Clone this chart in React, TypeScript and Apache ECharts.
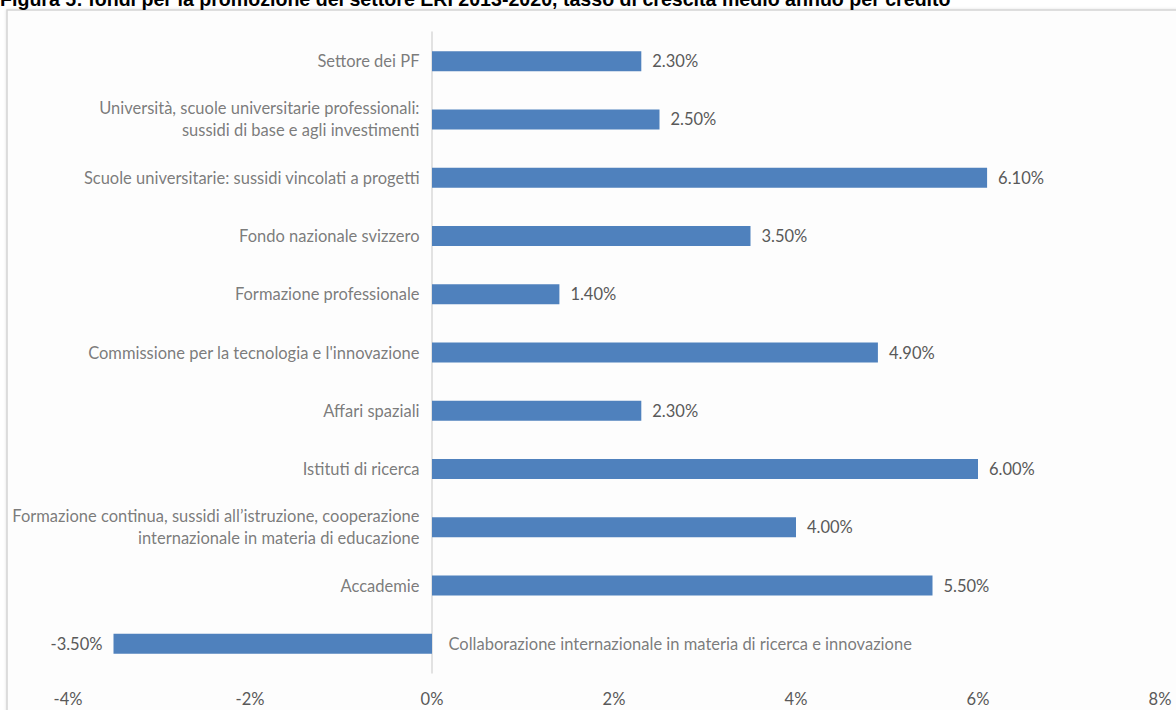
import React, { useEffect, useRef } from "react";
import * as echarts from "echarts";

const titleText =
  "Figura 5: fondi per la promozione del settore ERI 2013-2020, tasso di crescita medio annuo per credito";

const categories = [
  "Settore dei PF",
  "Università, scuole universitarie professionali:\nsussidi di base e agli investimenti",
  "Scuole universitarie: sussidi vincolati a progetti",
  "Fondo nazionale svizzero",
  "Formazione professionale",
  "Commissione per la tecnologia e l'innovazione",
  "Affari spaziali",
  "Istituti di ricerca",
  "Formazione continua, sussidi all’istruzione, cooperazione\ninternazionale in materia di educazione",
  "Accademie",
  "Collaborazione internazionale in materia di ricerca e innovazione",
];

const growthRates = [2.3, 2.5, 6.1, 3.5, 1.4, 4.9, 2.3, 6.0, 4.0, 5.5, -3.5];

const xTicks = { min: -4, max: 8, interval: 2 };

const FONT = "Lato, 'Open Sans', sans-serif";
const TEXT = "#595959";
const BAR = "#4f81bd";
const FS = 16.5;

export default function App() {
  const ref = useRef<HTMLDivElement>(null);

  useEffect(() => {
    if (!ref.current) return;
    const chart = echarts.init(ref.current, undefined, { renderer: "svg" });

    const catLabelData = categories.map((c, i) => ({
      value: [0, i],
      label: {
        position: growthRates[i] >= 0 ? "left" : "right",
        distance: growthRates[i] >= 0 ? 12 : 16,
        align: growthRates[i] >= 0 ? "right" : "left",
      },
    }));

    const barData = growthRates.map((v) =>
      v < 0 ? { value: v, label: { position: "left" } } : v
    );

    chart.setOption({
      animation: false,
      backgroundColor: "#ffffff",
      graphic: [
        {
          type: "rect",
          z: -10,
          shape: { x: 7, y: 10, width: 1200, height: 720 },
          style: {
            fill: "#fdfdfd",
            stroke: "#d4d4d4",
            lineWidth: 1.5,
            shadowBlur: 3,
            shadowColor: "rgba(0,0,0,0.12)",
          },
        },
        {
          type: "text",
          x: 0,
          y: -1,
          style: {
            text: titleText,
            font: "bold 19.6px 'Liberation Sans', Arial, sans-serif",
            fill: "#000000",
            verticalAlign: "middle",
          },
        },
      ],
      grid: { left: 68, right: 16, top: 32, bottom: 37, containLabel: false },
      xAxis: {
        type: "value",
        min: xTicks.min,
        max: xTicks.max,
        interval: xTicks.interval,
        splitLine: { show: false },
        axisLine: { show: false },
        axisTick: { show: false },
        axisLabel: {
          color: TEXT,
          fontFamily: FONT,
          fontSize: FS,
          margin: 17,
          formatter: (v: number) => `${v}%`,
        },
      },
      yAxis: {
        type: "category",
        data: categories,
        inverse: true,
        axisLine: { show: true, onZero: true, lineStyle: { color: "#d9d9d9", width: 1.5 } },
        axisTick: { show: false },
        axisLabel: { show: false },
        splitLine: { show: false },
      },
      series: [
        {
          type: "bar",
          data: barData,
          barWidth: 20,
          itemStyle: { color: BAR },
          label: {
            show: true,
            position: "right",
            distance: 11,
            color: TEXT,
            fontFamily: FONT,
            fontSize: FS,
            formatter: (p: any) => `${Number(p.value).toFixed(2)}%`,
          },
        },
        {
          type: "scatter",
          data: catLabelData,
          symbolSize: 1,
          itemStyle: { color: "transparent" },
          silent: true,
          label: {
            show: true,
            color: TEXT,
            fontFamily: FONT,
            fontSize: FS,
            lineHeight: 22,
            formatter: (p: any) => categories[p.dataIndex],
          },
        },
      ],
    });

    return () => chart.dispose();
  }, []);

  return (
    <div
      ref={ref}
      style={{ position: "fixed", left: 0, top: 0, width: 1176, height: 710 }}
    />
  );
}
